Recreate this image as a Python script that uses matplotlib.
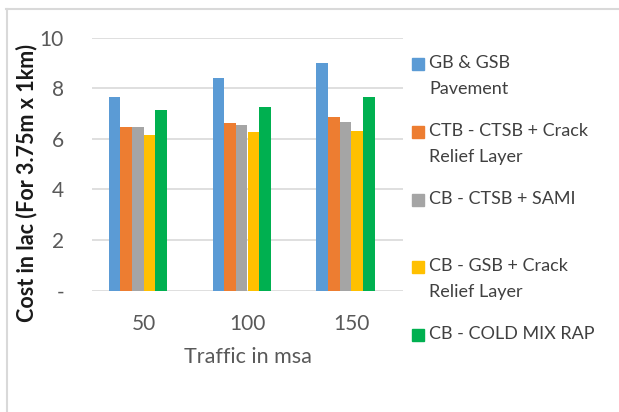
import matplotlib
matplotlib.use("Agg")
import matplotlib.pyplot as plt
from matplotlib.patches import Rectangle
from matplotlib.lines import Line2D
import numpy as np

plt.rcParams['font.family'] = ['Lato', 'DejaVu Sans']

categories = ["50", "100", "150"]
series_names = [
    "GB & GSB\nPavement",
    "CTB - CTSB + Crack\nRelief Layer",
    "CB - CTSB + SAMI",
    "CB - GSB + Crack\nRelief Layer",
    "CB - COLD MIX RAP",
]
gb_gsb = [7.65, 8.40, 9.00]
ctb_ctsb_crack = [6.46, 6.61, 6.87]
cb_ctsb_sami = [6.46, 6.56, 6.67]
cb_gsb_crack = [6.15, 6.26, 6.31]
cb_cold_mix = [7.13, 7.27, 7.63]
series_values = [gb_gsb, ctb_ctsb_crack, cb_ctsb_sami, cb_gsb_crack, cb_cold_mix]
colors = ["#5B9BD5", "#ED7D31", "#A5A5A5", "#FFC000", "#00B050"]
yticks = [0, 2, 4, 6, 8, 10]
ytick_labels = ["-", "2", "4", "6", "8", "10"]

W, H = 619, 412
fig = plt.figure(figsize=(W / 100, H / 100), dpi=100)
ax = fig.add_axes([91.7 / W, 1 - 290.5 / H, 311.6 / W, 253 / H])

# six slots per category (last one left empty)
n_slots = 6
bar_w = 0.1123
x = np.arange(len(categories))
for i, (vals, c) in enumerate(zip(series_values, colors)):
    ax.bar(x + (i - (n_slots - 1) / 2) * bar_w, vals, width=bar_w, color=c,
           zorder=3)

ax.set_xlim(-0.5, len(categories) - 0.5)
ax.set_ylim(0, 10)
ax.set_yticks(yticks)
ax.set_yticklabels(ytick_labels)
ax.set_xticks(x)
ax.set_xticklabels(categories)
ax.grid(axis='y', color='#D9D9D9', linewidth=1.2, zorder=0)
ax.set_axisbelow(True)
for s in ax.spines.values():
    s.set_visible(False)
ax.tick_params(length=0, labelcolor='#595959', labelsize=15)
ax.tick_params(axis='y', pad=20)
ax.tick_params(axis='x', pad=17)

ax.set_xlabel("Traffic in msa", color='#595959', fontsize=15.5, labelpad=9)
ax.set_ylabel("Cost in lac (For 3.75m x 1km)", fontsize=15.5,
              fontweight='bold', color='#1a1a1a')
ax.yaxis.label.set_va('center')
ax.yaxis.set_label_coords((27 - 91.7) / 311.6, (290.5 - 183) / 253)

# legend drawn in figure pixels: swatch aligned with first text line
first_line_y = [64, 132, 200, 267, 335]
for name, c, yc in zip(series_names, colors, first_line_y):
    fig.patches.append(Rectangle((412 / W, 1 - (yc + 6) / H), 12 / W, 12 / H,
                                 transform=fig.transFigure, color=c))
    fig.text(429 / W, 1 - (yc - 9) / H, name, ha='left', va='top',
             fontsize=13, color='#404040', linespacing=1.78)

# outer frame
fig.lines.append(Line2D([6 / W, 1], [1 - 9 / H, 1 - 9 / H],
                        transform=fig.transFigure, color='#D9D9D9', lw=1.5))
fig.lines.append(Line2D([7 / W, 7 / W], [1 - 9 / H, 0],
                        transform=fig.transFigure, color='#D9D9D9', lw=1.5))

fig.savefig("out.png", dpi=100)
